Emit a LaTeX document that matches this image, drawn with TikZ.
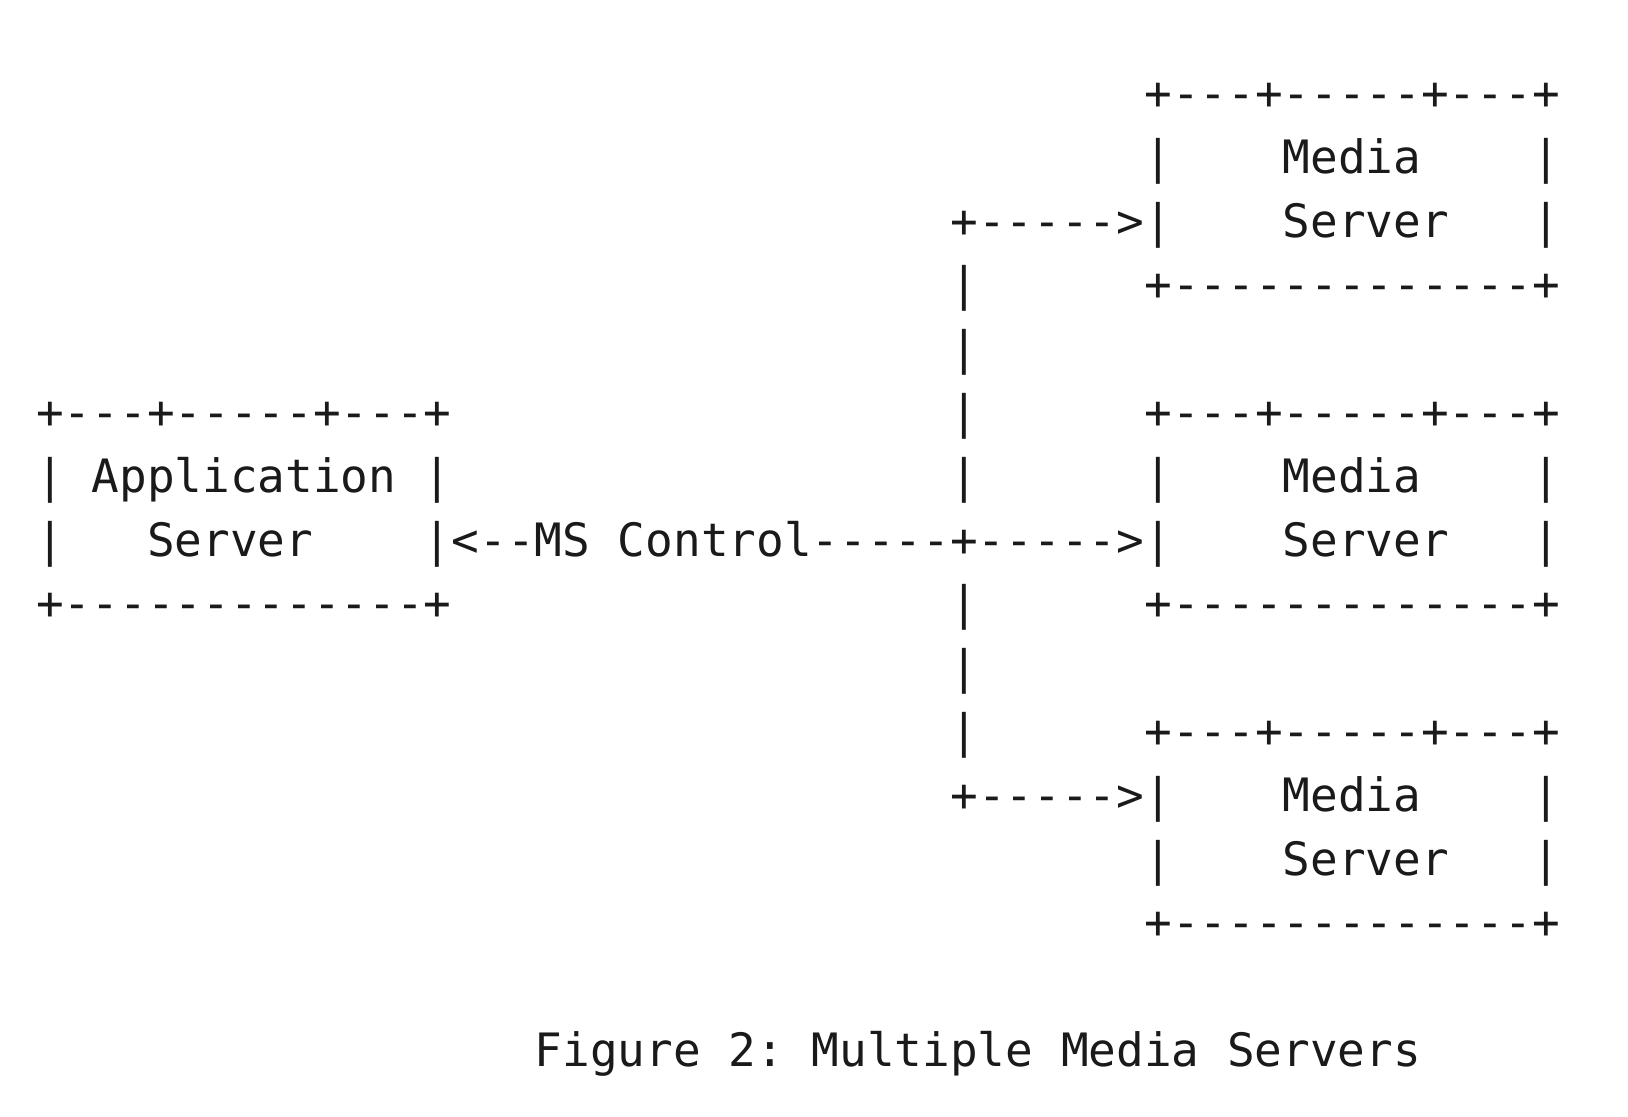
\documentclass[tikz,border=0pt]{standalone}
\usepackage{fontspec}
\setmonofont{DejaVu Sans Mono}
\usepackage{tikz}
\usetikzlibrary{positioning}
\definecolor{inkcolor}{RGB}{26,26,26}
\tikzset{
  ascii/.style={anchor=base west,inner sep=0pt,text=inkcolor,
    font=\ttfamily\fontsize{23pt}{30pt}\selectfont},
}

\begin{document}
\begin{tikzpicture}[x=13.85pt,y=-31.9pt]
    \useasboundingbox (-17.95pt,54.75pt) rectangle (796.05pt,-503.25pt);
    % application server
    \node[ascii] (apptop) at (0,5) {+---+-----+---+};
    \node[ascii] (appa) at (0,6) {|~Application~|};
    \node[ascii] (appb) at (0,7) {|~~~Server~~~~|};
    \node[ascii] (appbot) at (0,8) {+-------------+};
    % media servers
    \node[ascii] (msatop) at (40,0) {+---+-----+---+};
    \node[ascii] (msaa) at (40,1) {|~~~~Media~~~~|};
    \node[ascii] (msab) at (40,2) {|~~~~Server~~~|};
    \node[ascii] (msabot) at (40,3) {+-------------+};
    \node[ascii] (msbtop) at (40,5) {+---+-----+---+};
    \node[ascii] (msba) at (40,6) {|~~~~Media~~~~|};
    \node[ascii] (msbb) at (40,7) {|~~~~Server~~~|};
    \node[ascii] (msbbot) at (40,8) {+-------------+};
    \node[ascii] (msctop) at (40,10) {+---+-----+---+};
    \node[ascii] (msca) at (40,11) {|~~~~Media~~~~|};
    \node[ascii] (mscb) at (40,12) {|~~~~Server~~~|};
    \node[ascii] (mscbot) at (40,13) {+-------------+};
    % ms control links
    \node[ascii] (ctrl) at (15,7) {<--MS~Control-----+----->};
    \node[ascii] (linka) at (33,2) {+----->};
    \node[ascii] (linkc) at (33,11) {+----->};
    \foreach \r in {3,4,5,6,8,9,10}
      \node[ascii] (bar\r) at (33,\r) {|};
    % caption
    \node[ascii] (caption) at (18,15) {Figure~2:~Multiple~Media~Servers};
  \end{tikzpicture}
\end{document}
